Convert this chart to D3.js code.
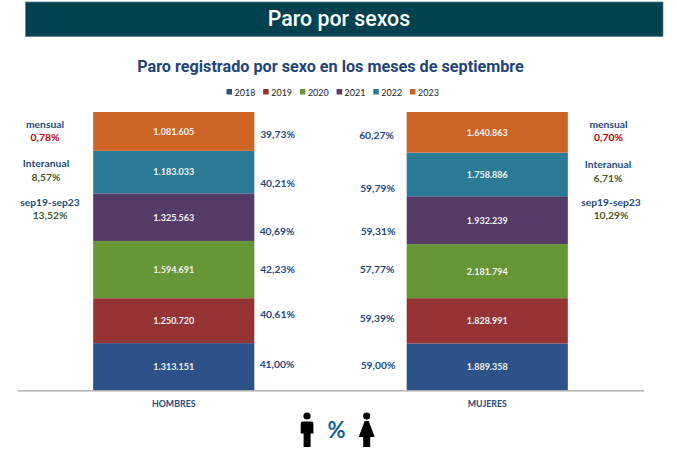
<!DOCTYPE html>
<html lang="es">
<head>
<meta charset="utf-8">
<title>Paro por sexos</title>
<script src="https://cdn.jsdelivr.net/npm/d3@7"></script>
<style>
html,body{margin:0;padding:0;background:#fff;}
svg{display:block;}
text{font-family:Lato,"Open Sans",sans-serif;}
</style>
</head>
<body>
<svg id="chart" width="677" height="457"></svg>
<script>
const categories = ["HOMBRES", "MUJERES"];
const years = ["2018", "2019", "2020", "2021", "2022", "2023"];
const hombres = [1313151, 1250720, 1594691, 1325563, 1183033, 1081605];
const mujeres = [1889358, 1828991, 2181794, 1932239, 1758886, 1640863];
const hombresPct = ["41,00%", "40,61%", "42,23%", "40,69%", "40,21%", "39,73%"];
const mujeresPct = ["59,00%", "59,39%", "57,77%", "59,31%", "59,79%", "60,27%"];
const sideNames = ["mensual", "Interanual", "sep19-sep23"];
const hombresSide = ["0,78%", "8,57%", "13,52%"];
const mujeresSide = ["0,70%", "6,71%", "10,29%"];
const yearColors = ["#2c5289", "#953335", "#669635", "#543b68", "#2a7b96", "#cd6425"];

// layout
const W = 677, H = 457, baseY = 390.3, topY = 112;
const svg = d3.select("#chart");
const navy = "#264a7c";

// banner
svg.append("rect").attr("x", 25.5).attr("y", 2).attr("width", 637.5).attr("height", 34.5)
  .attr("fill", "#024250").attr("stroke", "#4f8494").attr("stroke-width", 0.7);
svg.append("text").attr("x", 339).attr("y", 26).attr("text-anchor", "middle")
  .style("font-family", "Roboto").style("font-weight", 500).style("font-size", "21.3px").attr("fill", "#fff").text("Paro por sexos");

// subtitle
svg.append("text").attr("x", 330.5).attr("y", 71.5).attr("text-anchor", "middle")
  .style("font-family", "Roboto").style("font-weight", 700).style("font-size", "16.2px")
  .attr("fill", "#1f4476").text("Paro registrado por sexo en los meses de septiembre");

// scales
const x = d3.scaleBand().domain(categories).range([17, 644]).paddingInner(0.486).paddingOuter(0.243);
const y = d3.scaleLinear().domain([0, 1]).range([baseY, topY]);
const color = d3.scaleOrdinal().domain(years).range(yearColors);

// stacked 100% data
const rows = categories.map((c, ci) => {
  const r = {cat: c};
  years.forEach((yr, i) => r[yr] = (ci === 0 ? hombres : mujeres)[i]);
  return r;
});
const series = d3.stack().keys(years).offset(d3.stackOffsetExpand)(rows);

const groups = svg.append("g").selectAll("g").data(series).join("g").attr("fill", d => color(d.key));
groups.selectAll("rect").data(d => d).join("rect")
  .attr("x", d => x(d.data.cat)).attr("width", x.bandwidth())
  .attr("y", d => y(d[1])).attr("height", d => y(d[0]) - y(d[1]));
groups.selectAll("text").data(d => d.map(v => ({v, key: d.key}))).join("text")
  .attr("x", d => x(d.v.data.cat) + x.bandwidth() / 2)
  .attr("y", d => (y(d.v[0]) + y(d.v[1])) / 2 + 3.4)
  .attr("text-anchor", "middle").attr("fill", "#f4f4f4")
  .style("font-size", "9px").style("font-weight", 700)
  .text(d => d3.format(",")(d.v.data[d.key]).replace(/,/g, "."));

// category axis
const axis = svg.append("g").attr("transform", `translate(0,${baseY})`)
  .call(d3.axisBottom(x).tickSize(0).tickPadding(10));
axis.select(".domain").attr("stroke", "#a6a6a6").attr("stroke-width", 1.2);
axis.selectAll("text").attr("fill", navy).style("font-family", "Lato")
  .style("font-size", "8.8px").style("font-weight", 700);

// percent labels (manually placed as in the reference)
const pctLeftY = [364, 314.5, 269.5, 231, 183, 134];
const pctRightY = [365, 318, 269, 231.6, 188, 135];
const pctLeftX = [277, 277.5, 277.5, 277, 277.5, 277.5];
const pctRightX = [378, 377, 377, 378, 377.5, 376.5];
function pct(list, xs, ys) {
  svg.append("g").selectAll("text").data(list).join("text")
    .attr("x", (d, i) => xs[i]).attr("y", (d, i) => ys[i] + 3.8)
    .attr("text-anchor", "middle").attr("fill", navy)
    .style("font-size", "10.3px").style("font-weight", 700).text(d => d);
}
pct(hombresPct, pctLeftX, pctLeftY);
pct(mujeresPct, pctRightX, pctRightY);

// side labels
const sideLabelY = [124, 163, 202], sideValueY = [137.5, 177, 215];
const sideColors = ["#c00000", "#4a5a2a", "#4a5a2a"];
function side(vals, xs, ysName, ysVal) {
  sideNames.forEach((n, i) => {
    svg.append("text").attr("x", xs[i]).attr("y", ysName[i] + 3.8).attr("text-anchor", "middle")
      .attr("fill", navy).style("font-size", "10.3px").style("font-weight", 700).text(n);
    svg.append("text").attr("x", xs[i]).attr("y", ysVal[i] + 3.8).attr("text-anchor", "middle")
      .attr("fill", sideColors[i]).style("font-size", "10.3px").style("font-weight", 700).text(vals[i]);
  });
}
side(hombresSide, [45, 46, 50], sideLabelY, sideValueY);
side(mujeresSide, [608.5, 608, 611], [124, 164, 202], [137.5, 178, 215]);

// legend
const legendX = d3.scalePoint().domain(years).range([226.5, 410]);
const leg = svg.append("g").selectAll("g").data(years).join("g")
  .attr("transform", d => `translate(${legendX(d)},89)`);
leg.append("rect").attr("width", 5.5).attr("height", 5.5).attr("fill", d => color(d));
leg.append("text").attr("x", 8).attr("y", 6.8).attr("fill", "#262626")
  .style("font-size", "9px").text(d => d);

// icons
const man = svg.append("g").attr("fill", "#000");
man.append("circle").attr("cx", 307).attr("cy", 416).attr("r", 3.6);
man.append("path").attr("d", "M302.5,421.5H311.5Q313.4,421.5 313.4,423.5V433.5H310.6V447H303.6V433.5H300.7V423.5Q300.7,421.5 302.5,421.5Z");
const woman = svg.append("g").attr("fill", "#000");
woman.append("circle").attr("cx", 366.7).attr("cy", 416).attr("r", 3.6);
woman.append("path").attr("d", "M364.7,421H368.7L374.7,437H370.2V447H363.2V437H358.7Z");
svg.append("text").attr("x", 336.5).attr("y", 438).attr("text-anchor", "middle")
  .attr("fill", "#17608a").style("font-size", "22px").style("font-weight", 700).text("%");
</script>
</body>
</html>
